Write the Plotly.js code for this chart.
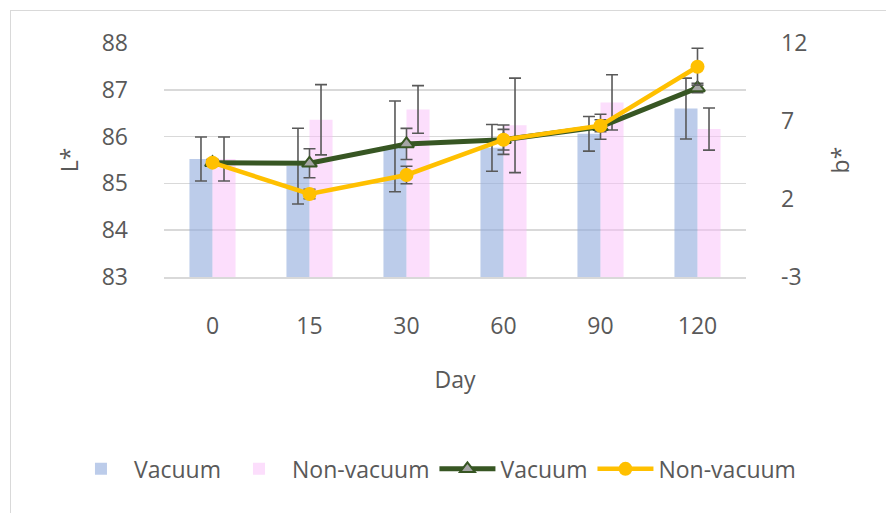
<!DOCTYPE html>
<html>
<head>
<meta charset="utf-8">
<script src="https://cdn.plot.ly/plotly-3.0.1.min.js"></script>
<style>
  html, body { margin: 0; padding: 0; background: #fff; }
  #wrap { position: relative; width: 886px; height: 513px; overflow: hidden; }
  #chart { position: absolute; left: 0; top: 0; width: 886px; height: 513px; }
  #frame { position: absolute; left: 10px; top: 10px; width: 900px; height: 530px;
           border: 1.5px solid #d9d9d9; pointer-events: none; box-sizing: border-box; }
</style>
</head>
<body>
<div id="wrap">
  <div id="chart"></div>
  <div id="frame"></div>
</div>
<script>
// ---- data ----
const days = ['0', '15', '30', '60', '90', '120'];

const L_vacuum      = [85.52, 85.37, 85.79, 85.76, 86.06, 86.60];
const L_vacuum_err  = [0.47, 0.81, 0.97, 0.50, 0.37, 0.65];
const L_nonvac      = [85.52, 86.36, 86.58, 86.24, 86.73, 86.16];
const L_nonvac_err  = [0.47, 0.75, 0.51, 1.01, 0.59, 0.45];

const b_vacuum      = [4.33, 4.29, 5.53, 5.80, 6.63, 9.12];
const b_vacuum_err  = [0.2, 0.93, 1.00, 0.94, 0.80, 0.30];
const b_nonvac      = [4.33, 2.32, 3.54, 5.80, 6.70, 10.48];
const b_nonvac_err  = [0.2, 0.30, 0.56, 0.66, 0.38, 1.18];

const seriesNames = ['Vacuum', 'Non-vacuum'];
const axisTitles = { x: 'Day', y: 'L*', y2: 'b*' };
const y2TickVals = [-3, 2, 7, 12];
const y2TickText = ['-3', '2', '7', '12'];

// ---- styling ----
const txt = '#595959';
const fs = 23;
const errStyle = (arr) => ({ type: 'data', array: arr, visible: true,
  color: '#595959', thickness: 1.6, width: 6 });

const traces = [
  { type: 'bar', name: seriesNames[0], x: days, y: L_vacuum,
    marker: { color: 'rgba(143,170,220,0.6)' }, error_y: errStyle(L_vacuum_err),
    yaxis: 'y', legendrank: 1 },
  { type: 'bar', name: seriesNames[1], x: days, y: L_nonvac,
    marker: { color: 'rgba(250,190,250,0.5)' }, error_y: errStyle(L_nonvac_err),
    yaxis: 'y', legendrank: 2 },
  { type: 'scatter', mode: 'lines+markers', name: seriesNames[0], x: days, y: b_vacuum,
    yaxis: 'y2', line: { color: '#375623', width: 5 },
    marker: { symbol: 'triangle-up', size: 13, color: '#a5a5a5', line: { color: '#375623', width: 2 } },
    error_y: errStyle(b_vacuum_err), legendrank: 3 },
  { type: 'scatter', mode: 'lines+markers', name: seriesNames[1], x: days, y: b_nonvac,
    yaxis: 'y2', line: { color: '#ffc000', width: 4.5 },
    marker: { symbol: 'circle', size: 14, color: '#ffc000' },
    error_y: errStyle(b_nonvac_err), legendrank: 4 }
];

const font = { family: '"Open Sans", "Noto Sans", sans-serif', size: fs, color: txt };

const layout = {
  width: 886, height: 513,
  margin: { l: 164, r: 140, t: 43, b: 236, pad: 0, autoexpand: false },
  paper_bgcolor: '#ffffff', plot_bgcolor: '#ffffff',
  font: font,
  barmode: 'group', bargap: 0.525, bargroupgap: 0,
  showlegend: true,
  legend: { orientation: 'h', x: -0.165, xanchor: 'left',
            y: -0.82, yanchor: 'middle',
            font: { size: fs, color: txt }, itemwidth: 56, traceorder: 'normal' },
  xaxis: {
    type: 'category', showgrid: false, zeroline: false,
    showline: true, linecolor: '#d9d9d9', linewidth: 1.5,
    ticks: '', ticklabelstandoff: 28,
    tickfont: { size: fs, color: txt },
    title: { text: axisTitles.x, standoff: 32, font: { size: fs, color: txt } }
  },
  yaxis: {
    range: [83, 88], dtick: 1, tick0: 83,
    showgrid: true, gridcolor: '#d9d9d9', gridwidth: 1.5,
    zeroline: false, showline: false, ticks: '', ticklabelstandoff: 35,
    tickfont: { size: fs, color: txt },
    title: { text: axisTitles.y, standoff: 16, font: { size: fs, color: txt } }
  },
  yaxis2: {
    overlaying: 'y', side: 'right',
    range: [-3, 12], tickmode: 'array', tickvals: y2TickVals, ticktext: y2TickText,
    showgrid: false, zeroline: false, showline: false, ticks: '', ticklabelstandoff: 34,
    tickfont: { size: fs, color: txt },
    title: { text: axisTitles.y2, standoff: 26, font: { size: fs, color: txt } }
  }
};

Plotly.newPlot('chart', traces, layout, { displayModeBar: false, staticPlot: true });
</script>
</body>
</html>
